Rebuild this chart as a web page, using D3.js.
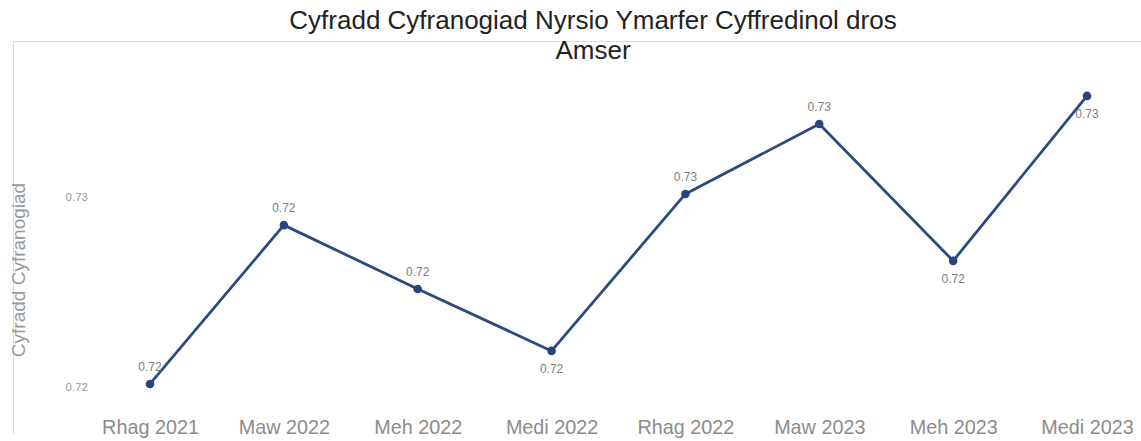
<!DOCTYPE html>
<html>
<head>
<meta charset="utf-8">
<script src="https://cdn.jsdelivr.net/npm/d3@7/dist/d3.min.js"></script>
<style>
  html, body { margin: 0; padding: 0; background: #fff; }
  svg { display: block; font-family: "Liberation Sans", Arial, sans-serif; }
</style>
</head>
<body>
<svg id="chart" width="1141" height="441"></svg>
<script>
const categories = ["Rhag 2021", "Maw 2022", "Meh 2022", "Medi 2022", "Rhag 2022", "Maw 2023", "Meh 2023", "Medi 2023"];
const values = [0.72008, 0.72426, 0.72258, 0.72095, 0.72508, 0.72692, 0.72332, 0.72766];
const labelBelow = [false, false, false, true, false, false, true, true];
const yTickValues = [0.720, 0.725];
const yTickLabels = ["0.72", "0.73"];
const titleLines = ["Cyfradd Cyfranogiad Nyrsio Ymarfer Cyffredinol dros", "Amser"];
const yTitle = "Cyfradd Cyfranogiad";

const svg = d3.select("#chart");
const W = 1141, H = 441;

const x = d3.scalePoint().domain(categories).range([150, 1087]);
const y = d3.scaleLinear().domain([0.720, 0.725]).range([387, 197]);

// frame lines
svg.append("line").attr("x1", 13).attr("x2", W).attr("y1", 41.5).attr("y2", 41.5)
  .attr("stroke", "#dcdcdc").attr("stroke-width", 1);
svg.append("line").attr("x1", 13.5).attr("x2", 13.5).attr("y1", 41).attr("y2", 434)
  .attr("stroke", "#dcdcdc").attr("stroke-width", 1);

// title
svg.append("g").selectAll("text").data(titleLines).join("text")
  .attr("x", 593).attr("y", (d, i) => 29 + i * 30)
  .attr("text-anchor", "middle")
  .attr("font-size", 26).attr("fill", "#222")
  .text(d => d);

// y axis title
svg.append("text")
  .attr("transform", "translate(25,270) rotate(-90)")
  .attr("text-anchor", "middle")
  .attr("font-size", 19).attr("fill", "#999")
  .text(yTitle);

// y axis ticks (labels only)
const yAxis = d3.axisLeft(y).tickValues(yTickValues)
  .tickFormat((d, i) => yTickLabels[i]).tickSize(0).tickPadding(0);
const yg = svg.append("g").attr("transform", "translate(88,0)").call(yAxis);
yg.select(".domain").remove();
yg.selectAll("text").attr("font-size", 11.5).attr("fill", "#9a9a9a")
  .attr("font-family", "Liberation Sans, Arial, sans-serif");

// x axis labels
const xAxis = d3.axisBottom(x).tickSize(0).tickPadding(0);
const xg = svg.append("g").attr("transform", "translate(0,420)").call(xAxis);
xg.select(".domain").remove();
xg.selectAll("text").attr("font-size", 19.8).attr("fill", "#8c8c8c")
  .attr("font-family", "Liberation Sans, Arial, sans-serif").attr("dy", "0.72em");

// line
const data = categories.map((c, i) => ({ c, v: values[i], below: labelBelow[i] }));
const line = d3.line().x(d => x(d.c)).y(d => y(d.v));
svg.append("path").datum(data)
  .attr("d", line).attr("fill", "none")
  .attr("stroke", "#2b4a7f").attr("stroke-width", 2.8).attr("stroke-linejoin", "round");

// points
svg.append("g").selectAll("circle").data(data).join("circle")
  .attr("cx", d => x(d.c)).attr("cy", d => y(d.v)).attr("r", 4.3)
  .attr("fill", "#26457a");

// value labels
const fmt = d3.format(".2f");
svg.append("g").selectAll("text").data(data).join("text")
  .attr("x", d => x(d.c)).attr("y", d => y(d.v) + (d.below ? 22 : -13))
  .attr("text-anchor", "middle")
  .attr("font-size", 12).attr("fill", "#7d7d7d")
  .text(d => fmt(d.v));
</script>
</body>
</html>
